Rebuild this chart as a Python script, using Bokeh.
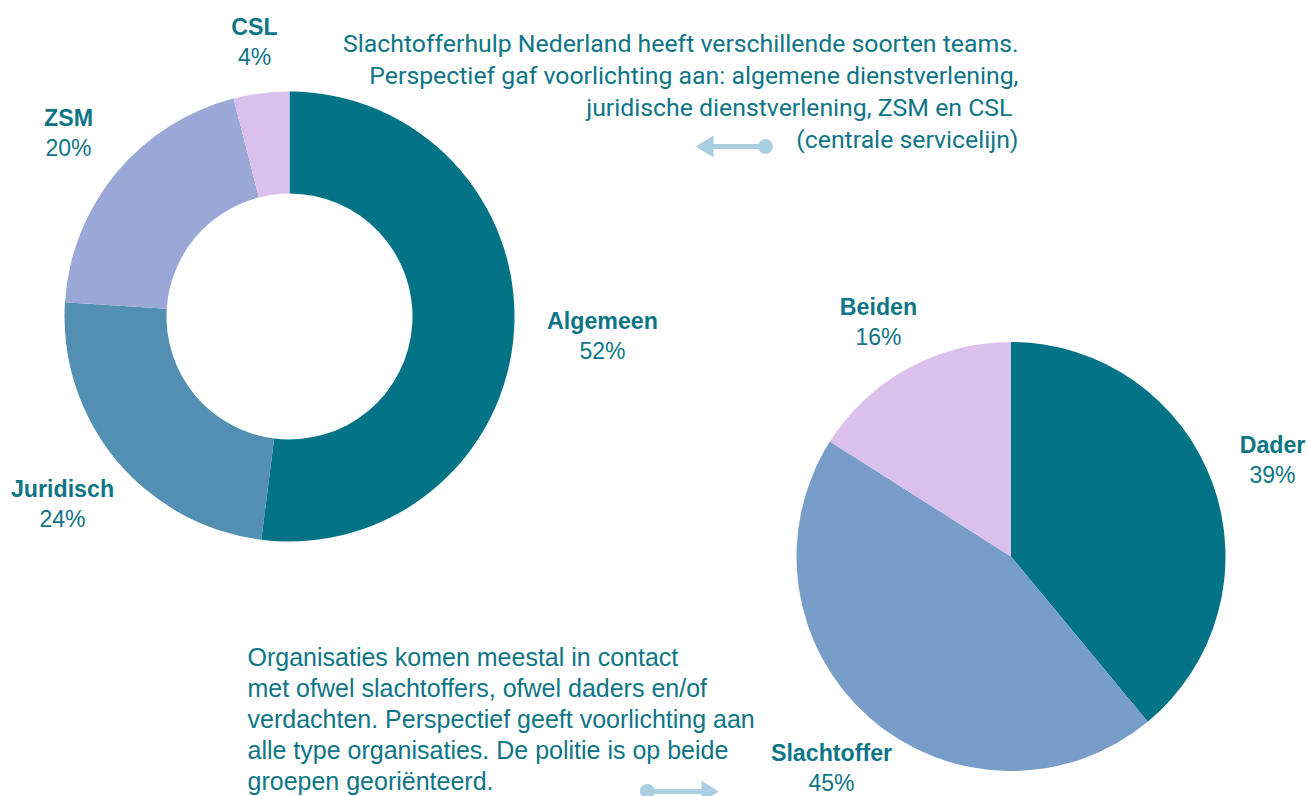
import math
from bokeh.plotting import figure
from bokeh.models import Range1d
from bokeh.core.properties import value
from bokeh.embed import file_html
from bokeh.resources import INLINE

# ---- data ----
team_labels = ["Algemeen", "Juridisch", "ZSM", "CSL"]
team_values = [52, 24, 20, 4]
team_colors = ["#007486", "#538fb3", "#99a8d6", "#dbc0ee"]

contact_labels = ["Dader", "Slachtoffer", "Beiden"]
contact_values = [39, 45, 16]
contact_colors = ["#007486", "#789dc8", "#dbc0ee"]

top_note = [
    "Slachtofferhulp Nederland heeft verschillende soorten teams.",
    "Perspectief gaf voorlichting aan: algemene dienstverlening,",
    "juridische dienstverlening, ZSM en CSL ",
    "(centrale servicelijn)",
]
bottom_note = [
    "Organisaties komen meestal in contact",
    "met ofwel slachtoffers, ofwel daders en/of",
    "verdachten. Perspectief geeft voorlichting aan",
    "alle type organisaties. De politie is op beide",
    "groepen georiënteerd.",
]

# ---- layout (page pixel coordinates) ----
team_label_pos = [(602, 320), (62, 488), (68, 117), (254, 26)]
contact_label_pos = [(1272, 444), (831, 752), (878, 306)]

TEXT = "#0d7586"
ARROW = "#a9cfe1"

W, H = 1308, 796
p = figure(width=W, height=H, x_range=Range1d(0, W), y_range=Range1d(-H, 0),
           output_backend="svg", toolbar_location=None, min_border=0)
p.axis.visible = False
p.grid.visible = False
p.outline_line_color = None
p.background_fill_color = "white"
p.border_fill_color = "white"


def angles(vals):
    tot = float(sum(vals))
    starts, ends = [], []
    c = 0.0
    for v in vals:
        starts.append(math.pi / 2 - 2 * math.pi * c / tot)
        c += v
        ends.append(math.pi / 2 - 2 * math.pi * c / tot)
    return starts, ends


# donut
s, e = angles(team_values)
p.annular_wedge(x=[289] * 4, y=[-316] * 4, inner_radius=123, outer_radius=225,
                start_angle=s, end_angle=e, direction="clock",
                fill_color=team_colors, line_color=None)

# pie
s2, e2 = angles(contact_values)
p.wedge(x=[1010.5] * 3, y=[-556] * 3, radius=214.5,
        start_angle=s2, end_angle=e2, direction="clock",
        fill_color=contact_colors, line_color=None)


def labels(names, vals, pos):
    xs = [q[0] for q in pos]
    ys = [-q[1] for q in pos]
    p.text(x=xs, y=ys, text=names, text_align="center", text_baseline="middle",
           text_font=value("Liberation Sans"), text_font_style="bold",
           text_font_size="23.2px", text_color=TEXT)
    p.text(x=xs, y=[y - 30.5 for y in ys], text=[f"{v}%" for v in vals],
           text_align="center", text_baseline="middle",
           text_font=value("Liberation Sans"), text_font_size="23px", text_color=TEXT)


labels(team_labels, team_values, team_label_pos)
labels(contact_labels, contact_values, contact_label_pos)

# notes
p.text(x=[1018] * 4, y=[-43 - 32 * i for i in range(4)], text=top_note,
       text_align="right", text_baseline="middle",
       text_font=value("Roboto"), text_font_size="24.8px", text_color=TEXT)
p.text(x=[247] * 5, y=[-656 - 31.2 * i for i in range(5)], text=bottom_note,
       text_align="left", text_baseline="middle",
       text_font=value("Liberation Sans"), text_font_size="25px", text_color=TEXT)

# arrows
p.segment(x0=[710], y0=[-146], x1=[765], y1=[-146], line_color=ARROW, line_width=5)
p.patch(x=[695, 713, 713], y=[-146, -135, -157], fill_color=ARROW, line_color=None)
p.scatter(x=[765], y=[-146], size=15, fill_color=ARROW, line_color=None)

p.segment(x0=[647], y0=[-791], x1=[704], y1=[-791], line_color=ARROW, line_width=5)
p.patch(x=[718, 701, 701], y=[-791, -780, -802], fill_color=ARROW, line_color=None)
p.scatter(x=[647], y=[-791], size=15, fill_color=ARROW, line_color=None)

open("out.html", "w").write(file_html(p, INLINE))
